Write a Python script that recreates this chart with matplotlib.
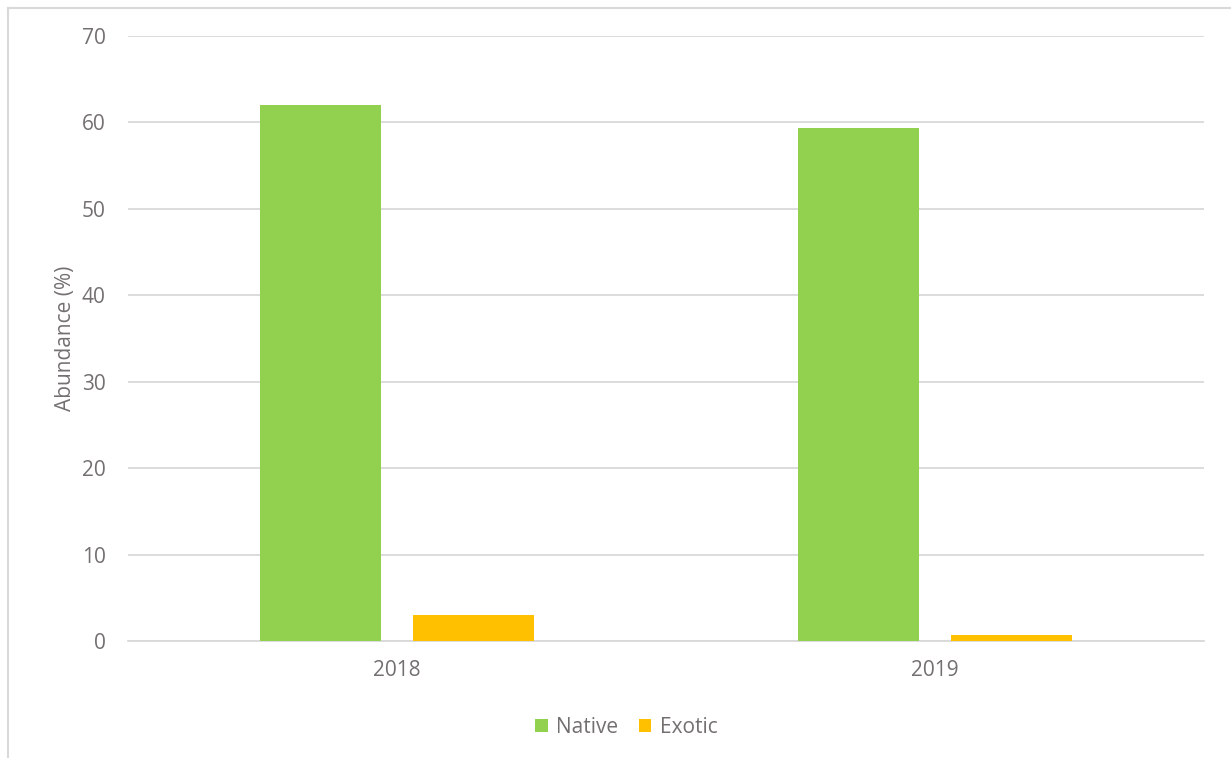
import numpy as np
import matplotlib.pyplot as plt
from matplotlib.lines import Line2D

years = ["2018", "2019"]
native = [62.0, 59.4]
exotic = [3.0, 0.7]

txt = "#757070"
grid_c = "#D9D9D9"

plt.rcParams.update({"font.family": ["Open Sans", "DejaVu Sans"], "font.size": 15})

fig = plt.figure(figsize=(12.31, 7.58), dpi=100)
ax = fig.add_axes([128 / 1231, 1 - 641 / 758, 1076 / 1231, 605 / 758])

x = np.arange(len(years))
w = 0.225
off = 0.1415
ax.bar(x - off, native, w, color="#92D050", label="Native", zorder=3)
ax.bar(x + off, exotic, w, color="#FFC000", label="Exotic", zorder=3)

ax.set_xlim(-0.5, 1.5)
ax.set_ylim(0, 70)
ax.set_yticks(range(0, 71, 10))
ax.set_xticks(x)
ax.set_xticklabels(years)
ax.grid(axis="y", color=grid_c, lw=1.3, zorder=0)
for s in ["top", "right", "left"]:
    ax.spines[s].set_visible(False)
ax.spines["bottom"].set_color(grid_c)
ax.spines["bottom"].set_linewidth(1.3)
ax.tick_params(axis="both", length=0, colors=txt, labelsize=15)
ax.tick_params(axis="y", pad=16)
ax.tick_params(axis="x", pad=14)
ax.set_ylabel("Abundance (%)", color=txt, fontsize=15, labelpad=4)

ax.legend(loc="upper center", bbox_to_anchor=(0.463, -0.095), ncol=2, frameon=False,
          handlelength=0.6, handleheight=0.6, handletextpad=0.4, columnspacing=1.0,
          labelcolor=txt, fontsize=15)

# outer chart frame (partly cropped)
fig.add_artist(Line2D([8 / 1231, 8 / 1231], [0, 1 - 8 / 758], color=grid_c, lw=1.5))
fig.add_artist(Line2D([8 / 1231, 1], [1 - 8 / 758, 1 - 8 / 758], color=grid_c, lw=1.5))

fig.savefig("out.png", dpi=100)
